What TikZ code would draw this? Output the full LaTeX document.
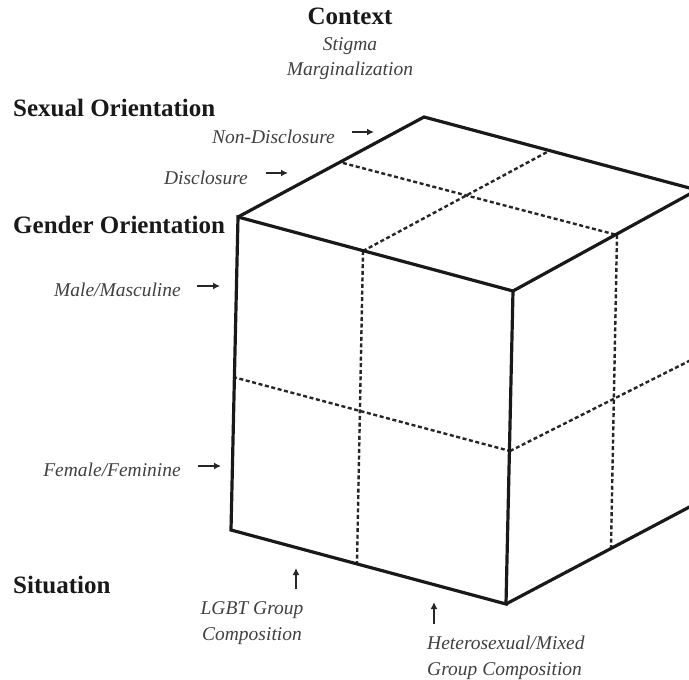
\documentclass[tikz,border=0pt]{standalone}
\usepackage{fontspec}
\setmainfont{Liberation Serif}
\usetikzlibrary{arrows.meta}
\begin{document}
\begin{tikzpicture}[x=1pt,y=-1pt,
  edge/.style={line width=3.2pt, line join=miter, draw=black!90},
  grid/.style={line width=2.4pt, dash pattern=on 4pt off 2.6pt, draw=black!85},
  pointer/.style={line width=1.6pt, draw=black!85, -{Latex[length=7pt,width=7pt]}},
  head/.style={font=\fontsize{25}{30}\selectfont\bfseries, inner sep=0pt, text=black!90},
  item/.style={font=\fontsize{19.5}{26}\selectfont\itshape, inner sep=0pt, text=black!75},
]
\useasboundingbox (0,0) rectangle (689,680);

% cube corners (F and G lie beyond the right border)
\coordinate (A) at (238,217);
\coordinate (B) at (513,291);
\coordinate (C) at (506,604);
\coordinate (D) at (231,530);
\coordinate (E) at (424,117);
\coordinate (F) at (697,190);
\coordinate (G) at (697,503);

% end points of the dividing lines
\coordinate (fv1) at (363,251); \coordinate (fv2) at (357,563);
\coordinate (fh1) at (233,377); \coordinate (fh2) at (510,451);
\coordinate (rv1) at (617,235); \coordinate (rv2) at (611,548);
\coordinate (rh2) at (697,357);
\coordinate (tl1) at (343,163);
\coordinate (tb2) at (549,151);

\begin{scope}
  \clip (0,0) rectangle (689,680);
  % dividing lines
  \draw[grid] (fv1) -- (fv2);
  \draw[grid] (fh1) -- (fh2);
  \draw[grid] (rv1) -- (rv2);
  \draw[grid] (fh2) -- (rh2);
  \draw[grid] (tl1) -- (rv1);
  \draw[grid] (fv1) -- (tb2);
  % cube outline
  \draw[edge] (A) -- (B) -- (C) -- (D) -- cycle;
  \draw[edge] (A) -- (E) -- (F) -- (B);
  \draw[edge] (C) -- (G);
\end{scope}

% headings
\node[head, anchor=base] (ctx) at (350,24) {Context};
\node[item, anchor=base] (stg) at (350,50) {Stigma};
\node[item, anchor=base] (mrg) at (350,75) {Marginalization};
\node[head, anchor=base west] (so) at (13,116) {Sexual Orientation};
\node[head, anchor=base west] (go) at (13,233) {Gender Orientation};
\node[head, anchor=base west] (sit) at (13,593) {Situation};

% levels
\node[item, anchor=base east] (nd) at (335,143) {Non-Disclosure};
\node[item, anchor=base east] (dc) at (248,184) {Disclosure};
\node[item, anchor=base east] (mm) at (181,296) {Male/Masculine};
\node[item, anchor=base east] (ff) at (181,476) {Female/Feminine};
\node[item, align=center, anchor=north] (lgbt) at (252,601) {LGBT Group\\Composition};
\node[item, align=left, anchor=north west] (het) at (427,636) {Heterosexual/Mixed\\Group Composition};

% pointers
\coordinate (ndA) at (352,132); \coordinate (ndB) at (374,132);
\coordinate (dcA) at (266,173); \coordinate (dcB) at (288,173);
\coordinate (mmA) at (197,286); \coordinate (mmB) at (220,286);
\coordinate (ffA) at (198,466); \coordinate (ffB) at (221,466);
\coordinate (lgA) at (296,589); \coordinate (lgB) at (296,568);
\coordinate (htA) at (434,624); \coordinate (htB) at (434,602);
\draw[pointer] (ndA) -- (ndB);
\draw[pointer] (dcA) -- (dcB);
\draw[pointer] (mmA) -- (mmB);
\draw[pointer] (ffA) -- (ffB);
\draw[pointer] (lgA) -- (lgB);
\draw[pointer] (htA) -- (htB);
\end{tikzpicture}
\end{document}
